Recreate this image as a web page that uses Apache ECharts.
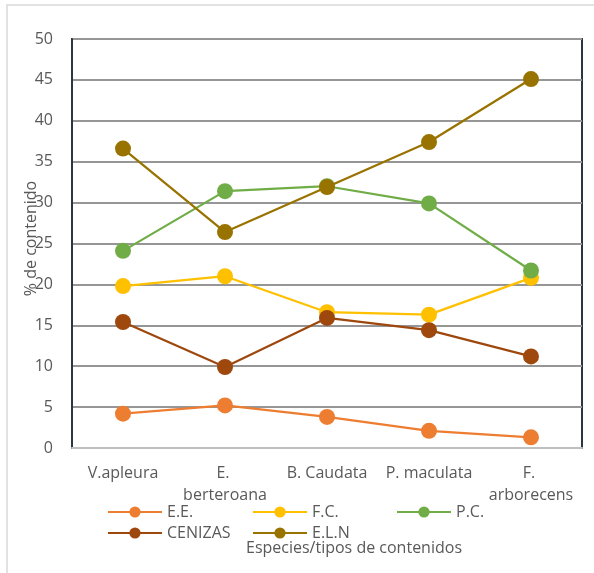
<!DOCTYPE html>
<html>
<head>
<meta charset="utf-8">
<script src="https://cdn.jsdelivr.net/npm/echarts@6/dist/echarts.min.js"></script>
<style>
  html, body { margin: 0; padding: 0; background: #fff; }
  #chart { width: 594px; height: 573px; }
</style>
</head>
<body>
<div id="chart"></div>
<script>
// Species (x axis categories)
const categories = ['V.apleura', 'E. berteroana', 'B. Caudata', 'P. maculata', 'F. arborecens'];

// Content percentages per species
const seriesNames = ['E.E.', 'F.C.', 'P.C.', 'CENIZAS', 'E.L.N'];
const valuesEE = [4.2, 5.2, 3.8, 2.1, 1.3];
const valuesFC = [19.8, 21.0, 16.6, 16.3, 20.8];
const valuesPC = [24.1, 31.4, 32.0, 29.9, 21.7];
const valuesCenizas = [15.4, 9.9, 15.9, 14.4, 11.2];
const valuesELN = [36.6, 26.4, 31.9, 37.4, 45.1];

// Y axis ticks
const yMin = 0, yMax = 50, yStep = 5;

const colors = ['#ED7D31', '#FFC000', '#70AD47', '#9E480E', '#997300'];
const seriesValues = [valuesEE, valuesFC, valuesPC, valuesCenizas, valuesELN];

const FONT = 'Open Sans';
const FONT_SIZE = 16;
const TEXT_COLOR = '#595959';

const chart = echarts.init(document.getElementById('chart'), null, { renderer: 'canvas' });

// one legend block per entry so the items sit on a fixed grid
const legendSlots = [
  { left: 107, top: 504 },
  { left: 252, top: 504 },
  { left: 396, top: 504 },
  { left: 107, top: 525 },
  { left: 252, top: 525 }
];

const option = {
  backgroundColor: '#ffffff',
  animation: false,
  color: colors,
  textStyle: { fontFamily: FONT },
  graphic: [{
    type: 'rect',
    shape: { x: 7, y: 5, width: 600, height: 580 },
    style: { fill: 'none', stroke: '#d9d9d9', lineWidth: 1.5 },
    silent: true
  }],
  grid: {
    left: 72, right: 12, top: 39, bottom: 125,
    show: true,
    borderColor: '#2d3540',
    borderWidth: 2
  },
  legend: seriesNames.map((n, i) => ({
    data: [n],
    left: legendSlots[i].left,
    top: legendSlots[i].top,
    padding: 0,
    itemWidth: 54,
    itemHeight: 14,
    itemGap: 0,
    textStyle: { fontFamily: FONT, fontSize: FONT_SIZE, color: TEXT_COLOR },
    selectedMode: false
  })),
  xAxis: {
    type: 'category',
    data: categories,
    boundaryGap: true,
    name: 'Especies/tipos de contenidos',
    nameLocation: 'middle',
    nameGap: 92,
    nameMoveOverlap: false,
    nameTextStyle: { fontFamily: FONT, fontSize: FONT_SIZE, color: TEXT_COLOR, padding: [0, 0, 0, 54] },
    axisLine: { show: true, lineStyle: { color: '#bfbfbf', width: 2 } },
    axisTick: { show: false },
    axisLabel: {
      fontFamily: FONT, fontSize: FONT_SIZE, color: TEXT_COLOR,
      margin: 14, lineHeight: 22,
      width: 96, overflow: 'break', interval: 0
    }
  },
  yAxis: {
    type: 'value',
    min: yMin, max: yMax, interval: yStep,
    name: '% de contenido',
    nameLocation: 'middle',
    nameGap: 33,
    nameRotate: 90,
    nameMoveOverlap: false,
    nameTextStyle: { fontFamily: FONT, fontSize: FONT_SIZE, color: TEXT_COLOR, padding: [0, 0, 0, 10] },
    axisLine: { show: true, lineStyle: { color: '#2d3540', width: 2 } },
    axisTick: { show: false },
    axisLabel: { fontFamily: FONT, fontSize: FONT_SIZE, color: TEXT_COLOR, margin: 19 },
    splitLine: { show: true, lineStyle: { color: '#969696', width: 2 } }
  },
  series: seriesNames.map((n, i) => ({
    name: n,
    type: 'line',
    data: seriesValues[i],
    symbol: 'circle',
    symbolSize: 16,
    lineStyle: { width: 2.25, color: colors[i] },
    itemStyle: { color: colors[i] },
    z: 2 + i
  }))
};

chart.setOption(option);
</script>
</body>
</html>
